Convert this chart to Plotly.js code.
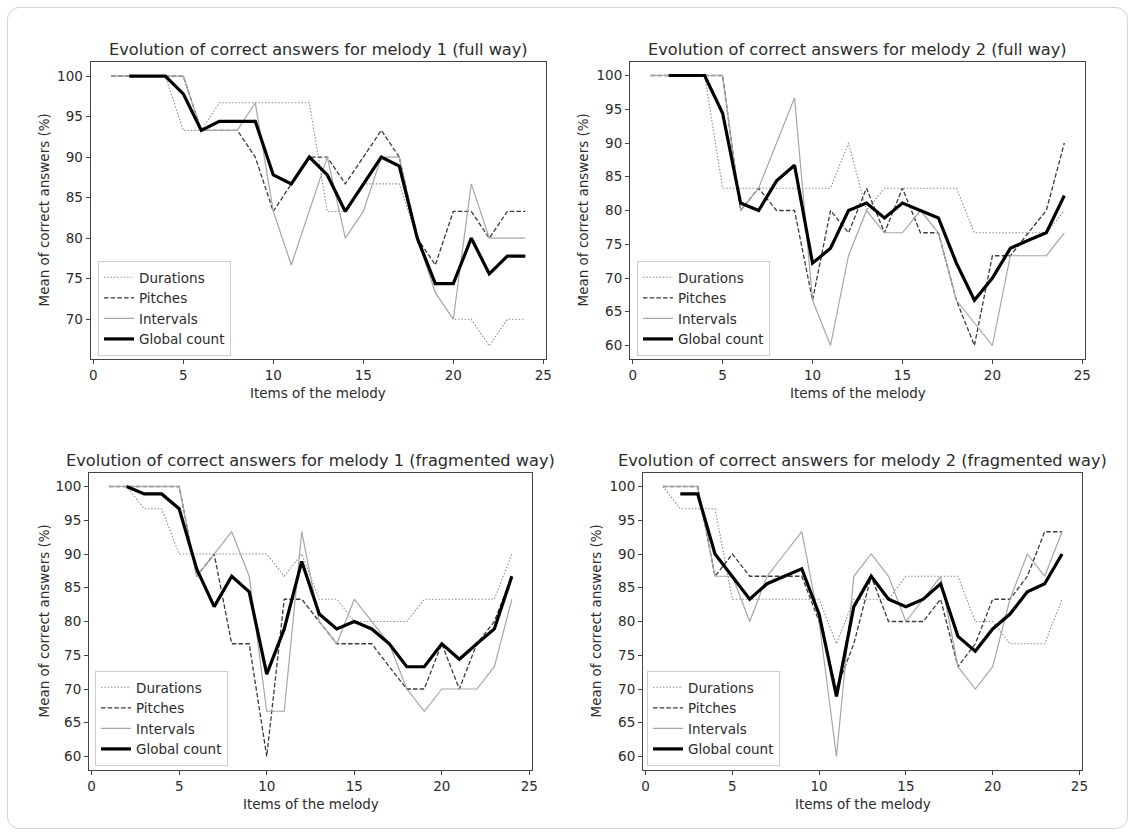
<!DOCTYPE html>
<html>
<head>
<meta charset="utf-8">
<script src="https://cdn.plot.ly/plotly-3.0.1.min.js"></script>
<style>
  html, body { margin: 0; padding: 0; background: #ffffff; }
  #wrap { position: relative; width: 1135px; height: 836px; }
  #chart { position: absolute; left: 0; top: 0; width: 1135px; height: 836px; }
  #frame { position: absolute; left: 7px; top: 7px; width: 1119px; height: 820px;
           border: 1px solid #d4d4d4; border-radius: 12px; pointer-events: none; }
</style>
</head>
<body>
<div id="wrap">
  <div id="chart"></div>
  <div id="frame"></div>
</div>
<script>
// ---- data ----
const items = [1,2,3,4,5,6,7,8,9,10,11,12,13,14,15,16,17,18,19,20,21,22,23,24];

const panelTitles = [
  "Evolution of correct answers for melody 1 (full way)",
  "Evolution of correct answers for melody 2 (full way)",
  "Evolution of correct answers for melody 1 (fragmented way)",
  "Evolution of correct answers for melody 2 (fragmented way)"
];
const seriesNames = ["Durations", "Pitches", "Intervals", "Global count"];
const xTitle = "Items of the melody";
const yTitle = "Mean of correct answers (%)";
const xTicks = [0, 5, 10, 15, 20, 25];

// Melody 1, full way
const m1FullDurations = [100,100,100,100,93.3,93.3,96.7,96.7,96.7,96.7,96.7,96.7,83.3,83.3,86.7,86.7,86.7,80,73.3,70,70,66.7,70,70];
const m1FullPitches   = [100,100,100,100,100,93.3,93.3,93.3,90,83.3,86.7,90,90,86.7,90,93.3,90,80,76.7,83.3,83.3,80,83.3,83.3];
const m1FullIntervals = [100,100,100,100,100,93.3,93.3,93.3,96.7,83.3,76.7,83.3,90,80,83.3,90,90,80,73.3,70,86.7,80,80,80];
const m1FullGlobal    = [null,100,100,100,97.8,93.3,94.4,94.4,94.4,87.8,86.7,90,87.8,83.3,86.7,90,88.9,80,74.4,74.4,80,75.6,77.8,77.8];

// Melody 2, full way
const m2FullDurations = [100,100,100,100,83.3,83.3,83.3,83.3,83.3,83.3,83.3,90,80,83.3,83.3,83.3,83.3,83.3,76.7,76.7,76.7,76.7,76.7,80];
const m2FullPitches   = [100,100,100,100,100,80,83.3,80,80,66.7,80,76.7,83.3,76.7,83.3,76.7,76.7,66.7,60,73.3,73.3,76.7,80,90];
const m2FullIntervals = [100,100,100,100,100,80,83.3,90,96.7,66.7,60,73.3,80,76.7,76.7,80,76.7,66.7,63.3,60,73.3,73.3,73.3,76.7];
const m2FullGlobal    = [null,100,100,100,94.4,81.1,80,84.4,86.7,72.2,74.4,80,81.1,78.9,81.1,80,78.9,72.2,66.7,70,74.4,75.6,76.7,82.2];

// Melody 1, fragmented way
const m1FragDurations = [100,100,96.7,96.7,90,90,90,90,90,90,86.7,90,83.3,83.3,80,80,80,80,83.3,83.3,83.3,83.3,83.3,90];
const m1FragPitches   = [100,100,100,100,100,86.7,90,76.7,76.7,60,83.3,83.3,80,76.7,76.7,76.7,73.3,70,70,76.7,70,76.7,80,86.7];
const m1FragIntervals = [100,100,100,100,100,86.7,90,93.3,86.7,66.7,66.7,93.3,80,76.7,83.3,80,76.7,70,66.7,70,70,70,73.3,83.3];
const m1FragGlobal    = [null,100,98.9,98.9,96.7,87.8,82.2,86.7,84.4,72.2,78.9,88.9,81.1,78.9,80,78.9,76.7,73.3,73.3,76.7,74.4,76.7,78.9,86.7];

// Melody 2, fragmented way
const m2FragDurations = [100,96.7,96.7,96.7,83.3,83.3,83.3,83.3,83.3,83.3,76.7,83.3,83.3,83.3,86.7,86.7,86.7,86.7,80,80,76.7,76.7,76.7,83.3];
const m2FragPitches   = [100,100,100,86.7,90,86.7,86.7,86.7,86.7,80,70,76.7,86.7,80,80,80,83.3,73.3,76.7,83.3,83.3,86.7,93.3,93.3];
const m2FragIntervals = [100,100,100,86.7,86.7,80,86.7,90,93.3,80,60,86.7,90,86.7,80,83.3,86.7,73.3,70,73.3,83.3,90,86.7,93.3];
const m2FragGlobal    = [null,98.9,98.9,90,86.7,83.3,85.6,86.7,87.8,81.1,68.9,82.2,86.7,83.3,82.2,83.3,85.6,77.8,75.6,78.9,81.1,84.4,85.6,90];

const panels = [
  [m1FullDurations, m1FullPitches, m1FullIntervals, m1FullGlobal],
  [m2FullDurations, m2FullPitches, m2FullIntervals, m2FullGlobal],
  [m1FragDurations, m1FragPitches, m1FragIntervals, m1FragGlobal],
  [m2FragDurations, m2FragPitches, m2FragIntervals, m2FragGlobal]
];

// ---- styling / layout ----
const W = 1135, H = 836;
const FONT = "DejaVu Sans, Verdana, sans-serif";
const TXT = "#2b2b2b";
const styles = [
  {color: "#8c8c8c", width: 1.1, dash: "1.5px,1.8px"},
  {color: "#3a3a3a", width: 1.3, dash: "4.5px,2.2px"},
  {color: "#a6a6a6", width: 1.2, dash: "solid"},
  {color: "#000000", width: 3.2, dash: "solid"}
];
// plot boxes in pixels: [left, right, top, bottom]
const boxes = [
  [90.6, 546, 62, 359],
  [630, 1085, 62, 359],
  [89, 532, 473, 770],
  [643, 1082, 473, 770]
];
const yRanges = [[65.1, 101.73], [58, 102], [58, 102], [58, 102]];
const legendPos = [[98, 356], [637, 356], [95, 766], [647, 766]];
const yTitleX = [43, 582, 43, 595];

const px = x => x / W;
const py = y => 1 - y / H;

const traces = [];
const layout = {
  width: W, height: H,
  margin: {l: 0, r: 0, t: 0, b: 0},
  paper_bgcolor: "#ffffff", plot_bgcolor: "#ffffff",
  font: {family: FONT, color: TXT, size: 13.5},
  annotations: [],
  showlegend: true
};

panels.forEach((series, p) => {
  const n = p === 0 ? "" : String(p + 1);
  const xa = "xaxis" + n, ya = "yaxis" + n;
  const legName = p === 0 ? "legend" : "legend" + (p + 1);
  series.forEach((vals, s) => {
    traces.push({
      type: "scatter", mode: "lines",
      x: items, y: vals, name: seriesNames[s],
      xaxis: "x" + n, yaxis: "y" + n,
      legend: legName, showlegend: true,
      connectgaps: false,
      line: {color: styles[s].color, width: styles[s].width, dash: styles[s].dash},
      hoverinfo: "x+y+name"
    });
  });
  const b = boxes[p];
  const axCommon = {
    showline: true, mirror: true, linecolor: "#444", linewidth: 1,
    ticks: "outside", ticklen: 4, tickwidth: 1, tickcolor: "#444",
    showgrid: false, zeroline: false,
    tickfont: {family: FONT, size: 13.5, color: TXT}
  };
  layout[xa] = Object.assign({}, axCommon, {
    domain: [px(b[0]), px(b[1])], range: [-0.15, 25.15],
    tickmode: "array", tickvals: xTicks, ticktext: xTicks.map(String),
    anchor: "y" + n
  });
  layout[ya] = Object.assign({}, axCommon, {
    domain: [py(b[3]), py(b[2])], range: yRanges[p],
    tickmode: "linear", tick0: 60, dtick: 5,
    anchor: "x" + n
  });
  layout[legName] = {
    x: px(legendPos[p][0]), y: py(legendPos[p][1]),
    xanchor: "left", yanchor: "bottom",
    bgcolor: "rgba(255,255,255,0.85)", bordercolor: "#cccccc", borderwidth: 1,
    font: {family: FONT, size: 13.5, color: TXT},
    itemwidth: 30, tracegroupgap: 0
  };
  const cx = (b[0] + b[1]) / 2;
  layout.annotations.push({
    text: panelTitles[p], xref: "paper", yref: "paper",
    x: px(cx), y: py(b[2] - 13), xanchor: "center", yanchor: "middle",
    showarrow: false, font: {family: FONT, size: 16.2, color: TXT}
  });
  layout.annotations.push({
    text: xTitle, xref: "paper", yref: "paper",
    x: px(cx), y: py(b[3] + 34), xanchor: "center", yanchor: "middle",
    showarrow: false, font: {family: FONT, size: 13.5, color: TXT}
  });
  layout.annotations.push({
    text: yTitle, xref: "paper", yref: "paper", textangle: -90,
    x: px(yTitleX[p]), y: py((b[2] + b[3]) / 2), xanchor: "center", yanchor: "middle",
    showarrow: false, font: {family: FONT, size: 13.5, color: TXT}
  });
});

Plotly.newPlot("chart", traces, layout, {staticPlot: true, displayModeBar: false});
</script>
</body>
</html>
